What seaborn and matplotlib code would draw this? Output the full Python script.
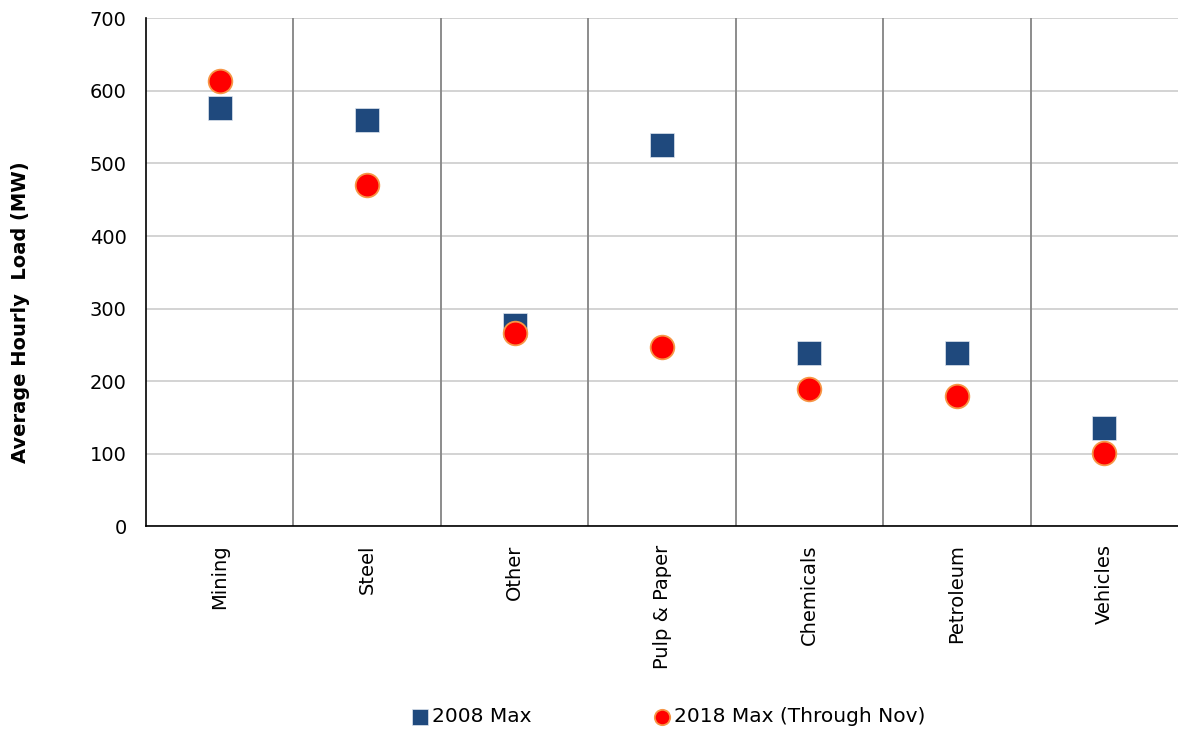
import matplotlib
matplotlib.use("Agg")
import matplotlib.pyplot as plt
import seaborn as sns
import pandas as pd

categories = ["Mining", "Steel", "Other", "Pulp & Paper", "Chemicals", "Petroleum", "Vehicles"]
max_2008 = [576, 560, 277, 525, 239, 239, 136]
max_2018 = [614, 470, 267, 247, 189, 179, 101]
series_names = ["2008 Max", "2018 Max (Through Nov)"]
y_ticks = [0, 100, 200, 300, 400, 500, 600, 700]

df = pd.DataFrame({
    "Industry": categories * 2,
    "Load": max_2008 + max_2018,
    "Series": [series_names[0]] * len(categories) + [series_names[1]] * len(categories),
})

sns.set_theme(style="white")
plt.rcParams["font.family"] = ["DejaVu Sans"]
plt.rcParams["text.color"] = "black"
plt.rcParams["axes.labelcolor"] = "black"
plt.rcParams["xtick.color"] = "black"
plt.rcParams["ytick.color"] = "black"

fig = plt.figure(figsize=(11.78, 7.34), dpi=100)
ax = fig.add_axes([0.124, 0.283, 0.876, 0.692])

sns.scatterplot(
    data=df[df["Series"] == series_names[0]], x="Industry", y="Load",
    marker="s", s=300, color="#1F497D", edgecolor="#dfe6ef", linewidth=0.5,
    ax=ax, label=series_names[0], zorder=3,
)
sns.scatterplot(
    data=df[df["Series"] == series_names[1]], x="Industry", y="Load",
    marker="o", s=290, color="#FF0000", edgecolor="#F79646", linewidth=1.3,
    ax=ax, label=series_names[1], zorder=4,
)

ax.set_xlim(-0.5, len(categories) - 0.5)
ax.set_ylim(0, 700)
ax.set_yticks(y_ticks)
ax.yaxis.grid(True, color="#d0d0d0", linewidth=1.3)
ax.set_axisbelow(True)
for i in range(len(categories) - 1):
    ax.axvline(i + 0.5, color="#8c8c8c", linewidth=1.4, zorder=1)

for side in ["top", "right"]:
    ax.spines[side].set_visible(False)
for side in ["left", "bottom"]:
    ax.spines[side].set_color("black")
    ax.spines[side].set_linewidth(1.2)

ax.tick_params(axis="x", labelrotation=90, labelsize=14, length=0, pad=13)
ax.tick_params(axis="y", labelsize=14, length=0, pad=14)
ax.set_xlabel("")
ax.set_ylabel("Average Hourly  Load (MW)", fontsize=14, fontweight="bold")
ax.yaxis.set_label_coords(-0.112, 0.421)

handles, labels = ax.get_legend_handles_labels()
ax.legend_.remove()
fig.legend(handles, labels, loc="lower center", bbox_to_anchor=(0.566, -0.014), ncol=2,
           frameon=False, fontsize=14.5, columnspacing=5.9, handlelength=1.2,
           handletextpad=0.0, markerscale=0.65)

fig.savefig("out.png", dpi=100)
